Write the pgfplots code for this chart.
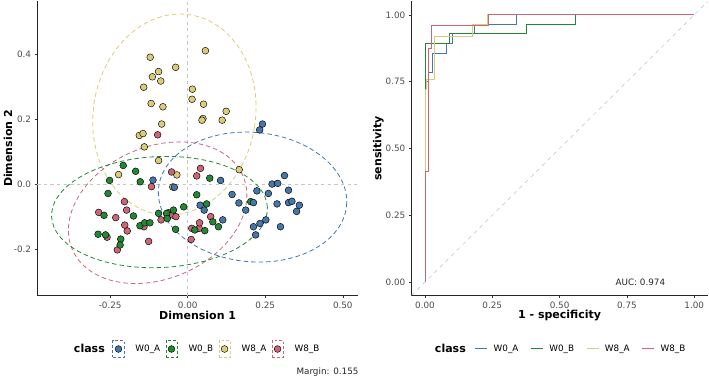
\documentclass[border=0pt]{standalone}
\usepackage{pgfplots}
\usepackage{pgfplotstable}
\pgfplotsset{compat=1.18}
\usepackage{fontspec}
\setmainfont{DejaVu Sans}
\definecolor{cA}{HTML}{4477AA}
\definecolor{cB}{HTML}{228833}
\definecolor{cC}{HTML}{DDCC77}
\definecolor{cD}{HTML}{CC6677}

\pgfplotstableread{
x y
0.241 0.185
0.232 0.167
-0.112 0.013
-0.043 -0.009
0.106 0.012
0.143 -0.031
0.165 -0.057
0.187 -0.079
0.040 -0.064
0.053 -0.079
0.113 -0.109
0.223 -0.020
0.260 -0.028
0.272 0.001
0.290 0.003
0.312 0.027
0.325 -0.018
0.288 -0.060
0.325 -0.056
0.336 -0.052
0.360 -0.064
0.351 -0.083
0.212 -0.056
0.212 -0.130
0.252 -0.109
0.233 -0.120
0.219 -0.155
0.299 -0.130
}\wA
\pgfplotstableread{
x y
-0.208 0.058
-0.168 0.040
-0.153 0.008
-0.252 0.012
-0.257 -0.028
-0.270 -0.095
-0.175 -0.097
-0.289 -0.153
-0.265 -0.155
-0.216 -0.168
-0.218 -0.186
-0.154 -0.127
-0.139 -0.118
-0.122 -0.118
-0.094 -0.089
-0.068 -0.089
-0.046 -0.079
-0.066 -0.105
-0.039 -0.138
-0.013 -0.069
0.029 -0.032
0.071 0.019
0.061 -0.060
0.055 -0.142
0.081 -0.115
0.099 -0.130
0.203 -0.053
0.023 -0.140
}\wB
\pgfplotstableread{
x y
-0.121 0.390
0.057 0.410
-0.039 0.359
-0.094 0.346
-0.114 0.330
-0.087 0.317
-0.142 0.298
0.015 0.292
-0.118 0.248
-0.080 0.238
0.014 0.261
0.051 0.246
0.124 0.224
0.111 0.197
0.049 0.202
0.046 0.197
-0.084 0.185
-0.156 0.150
-0.144 0.156
-0.140 0.115
-0.094 0.073
-0.223 0.030
-0.035 0.029
0.166 0.045
-0.048 -0.008
}\wC
\pgfplotstableread{
x y
-0.097 0.152
0.041 0.049
-0.052 0.038
0.029 0.026
-0.117 -0.007
-0.204 -0.053
-0.287 -0.086
-0.197 -0.079
-0.232 -0.102
-0.203 -0.125
-0.195 -0.143
-0.260 -0.162
-0.227 -0.201
-0.141 -0.130
-0.126 -0.175
-0.086 -0.109
-0.062 -0.087
-0.049 -0.094
-0.038 -0.099
0.013 -0.135
0.037 -0.135
0.038 -0.118
0.074 -0.099
0.011 -0.169
}\wD

\tikzset{ell/.style={#1, line width=0.8pt, dash pattern=on 4.5pt off 3pt}}
\pgfplotsset{
  gg/.style={
    scale only axis,
    axis x line*=bottom, axis y line*=left,
    axis line style={-, line width=0.7pt, black!85},
    tick align=outside, major tick length=2.75pt,
    tick style={line width=0.5pt, black!80},
    ticklabel style={font=\fontsize{8.8}{10}\selectfont, text=black!70},
    label style={font=\fontsize{11}{13}\selectfont\bfseries},
    /pgf/number format/assume math mode=true,
    legend style={draw=none, fill=none, inner sep=0pt, outer sep=0pt,
      font=\fontsize{8.8}{10}\selectfont, legend columns=-1,
      nodes={inner xsep=0pt, inner ysep=1pt}},
  },
  pt/.style={only marks, mark=*, mark size=3.4pt, color=#1,
    mark options={solid, draw=black, fill=#1, line width=0.45pt}},
  ptlegend/.style={legend image code/.code={
    \draw[line width=0.7pt, dash pattern=on 2.6pt off 2.2pt] (0pt,-8.3pt) rectangle (11.3pt,8.3pt);
    \draw[mark repeat=1] plot coordinates {(5.65pt,0pt)};
  }},
}

\begin{document}
\begin{tikzpicture}
\useasboundingbox (0,0) rectangle (709pt,378pt);

% ---------- left panel ----------
\begin{axis}[gg, clip=false,
  at={(37.3pt,82.5pt)}, anchor=south west,
  width=320.7pt, height=294pt,
  xmin=-0.485, xmax=0.549, ymin=-0.341, ymax=0.561,
  xtick={-0.25,0,0.25,0.5}, xticklabels={-0.25,0.00,0.25,0.50},
  ytick={-0.2,0,0.2,0.4}, yticklabels={-0.2,0.0,0.2,0.4},
  xlabel={Dimension 1}, ylabel={Dimension 2},
  x label style={at={(axis description cs:0.5,-0.0687)}, anchor=center},
  y label style={at={(axis description cs:-0.0914,0.5)}, anchor=center, rotate=0},
  legend style={at={(0.1144,-0.182)}, anchor=west,
    /tikz/column 1/.style={column sep=0pt},
    /tikz/column 2/.style={column sep=7.7pt},
    /tikz/column 3/.style={column sep=11pt},
    /tikz/column 4/.style={column sep=5.3pt},
    /tikz/column 5/.style={column sep=11pt},
    /tikz/column 6/.style={column sep=5.3pt},
    /tikz/column 7/.style={column sep=11pt},
    /tikz/column 8/.style={column sep=5.3pt},
    /tikz/column 9/.style={column sep=11pt}},
]
\addlegendimage{empty legend}
\addlegendentry{\fontsize{11}{13}\selectfont\bfseries class}
\addlegendimage{ptlegend, pt=cA}\addlegendentry{W0\_A}
\addlegendimage{ptlegend, pt=cB}\addlegendentry{W0\_B}
\addlegendimage{ptlegend, pt=cC}\addlegendentry{W8\_A}
\addlegendimage{ptlegend, pt=cD}\addlegendentry{W8\_B}

\addplot[forget plot, black!22, line width=0.5pt, dash pattern=on 3.3pt off 3.3pt] coordinates {(-0.485,0) (0.549,0)};
\addplot[forget plot, black!22, line width=0.5pt, dash pattern=on 3.3pt off 3.3pt] coordinates {(0,-0.341) (0,0.561)};

\draw[ell=cC] (axis cs:-0.043,0.214) ellipse [x radius=81.1pt, y radius=101pt, rotate=-9.2];
\draw[ell=cD] (axis cs:-0.097,-0.087) ellipse [x radius=92.9pt, y radius=65.9pt, rotate=23.3];
\draw[ell=cB] (axis cs:-0.091,-0.085) ellipse [x radius=108pt, y radius=55.5pt, rotate=2.5];
\draw[ell=cA] (axis cs:0.209,-0.039) ellipse [x radius=94.4pt, y radius=64.7pt, rotate=-5.2];

\addplot[forget plot, pt=cC] table[x=x,y=y] {\wC};
\addplot[forget plot, pt=cD] table[x=x,y=y] {\wD};
\addplot[forget plot, pt=cB] table[x=x,y=y] {\wB};
\addplot[forget plot, pt=cA] table[x=x,y=y] {\wA};

\node[anchor=east, font=\fontsize{8.8}{10}\selectfont, text=black!85] at (axis description cs:1.0125,-0.260) {Margin: 0.155};
\end{axis}

% ---------- right panel ----------
\begin{axis}[gg,
  at={(411.5pt,82.5pt)}, anchor=south west,
  width=296.2pt, height=294pt,
  xmin=-0.05, xmax=1.05, ymin=-0.05, ymax=1.05,
  xtick={0,0.25,0.5,0.75,1}, xticklabels={0.00,0.25,0.50,0.75,1.00},
  ytick={0,0.25,0.5,0.75,1}, yticklabels={0.00,0.25,0.50,0.75,1.00},
  xlabel={1 - specificity}, ylabel={sensitivity},
  x label style={at={(axis description cs:0.5,-0.0687)}, anchor=center},
  y label style={at={(axis description cs:-0.112,0.5)}, anchor=center, rotate=0},
  legend image code/.code={\draw[line width=0.9pt] (0pt,1pt) -- (12pt,1pt);},
  legend style={at={(0.0793,-0.182)}, anchor=west,
    /tikz/column 1/.style={column sep=0pt},
    /tikz/column 2/.style={column sep=9pt},
    /tikz/column 3/.style={column sep=6pt},
    /tikz/column 4/.style={column sep=12pt},
    /tikz/column 5/.style={column sep=6pt},
    /tikz/column 6/.style={column sep=12pt},
    /tikz/column 7/.style={column sep=6pt},
    /tikz/column 8/.style={column sep=12pt},
    /tikz/column 9/.style={column sep=6pt}},
]
\addlegendimage{empty legend}
\addlegendentry{\fontsize{11}{13}\selectfont\bfseries class}

\addplot[forget plot, black!25, line width=0.5pt, dash pattern=on 4pt off 4pt] coordinates {(-0.05,-0.05) (1.05,1.05)};

\addplot[color=cA, line width=0.9pt] coordinates {(0,0)(0,0.75)(0.012,0.75)(0.012,0.786)(0.026,0.786)(0.026,0.857)(0.078,0.857)(0.078,0.893)(0.103,0.893)(0.103,0.929)(0.182,0.929)(0.182,0.964)(0.338,0.964)(0.338,1)(1,1)};
\addlegendentry{W0\_A}
\addplot[color=cB, line width=0.9pt] coordinates {(0,0)(0,0.894)(0.090,0.894)(0.090,0.929)(0.377,0.929)(0.377,0.964)(0.559,0.964)(0.559,1)(1,1)};
\addlegendentry{W0\_B}
\addplot[color=cC, line width=0.9pt] coordinates {(0,0)(0,0.72)(0.006,0.72)(0.006,0.76)(0.037,0.76)(0.037,0.92)(0.177,0.92)(0.177,0.963)(0.231,0.963)(0.231,1)(1,1)};
\addlegendentry{W8\_A}
\addplot[color=cD, line width=0.9pt] coordinates {(0,0)(0,0.416)(0.0136,0.416)(0.0136,0.876)(0.025,0.876)(0.025,0.96)(0.235,0.96)(0.235,1)(1,1)};
\addlegendentry{W8\_B}

\node[font=\fontsize{8.8}{10}\selectfont, text=black!85] at (axis cs:0.80,0.0) {AUC: 0.974};
\end{axis}
\end{tikzpicture}
\end{document}
